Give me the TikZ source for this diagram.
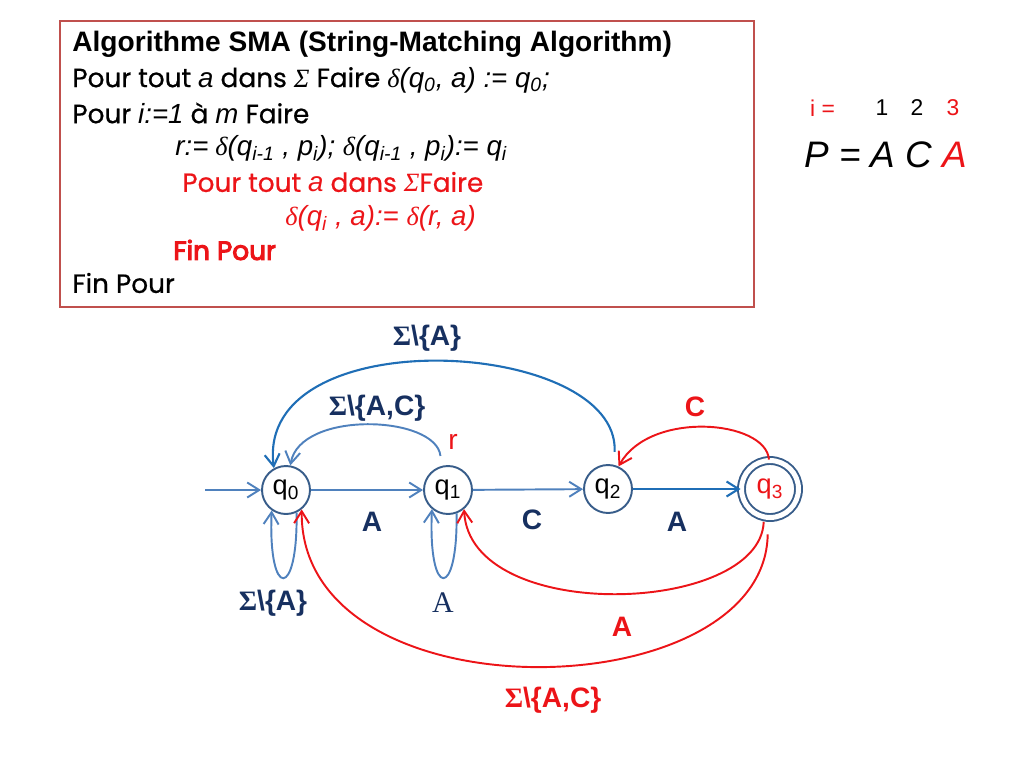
\documentclass[tikz,border=0pt]{standalone}
\usepackage{fontspec}
\setmainfont{Liberation Sans}
\newfontfamily\gothic{Poppins}[FakeBold=0.6]
\newfontfamily\gothicbf{Poppins}[FakeBold=4]
\newfontfamily\slant{Liberation Sans}[Scale=1.05]
\newfontfamily\grk{Liberation Serif}
\usetikzlibrary{arrows.meta}
\definecolor{stroke}{RGB}{56,93,138}
\definecolor{steel}{RGB}{79,129,189}
\definecolor{deepblue}{RGB}{31,110,182}
\definecolor{navy}{RGB}{23,48,96}
\definecolor{hot}{RGB}{236,20,24}
\definecolor{frame}{RGB}{192,80,77}
\newcommand{\sig}{{\grk Σ}}
\newcommand{\sgi}{{\grk\itshape Σ}}
\newcommand{\dlt}{{\grk\itshape δ}}
\newcommand{\ital}[1]{{\slant\itshape #1}}
\begin{document}
\begin{tikzpicture}[x=0.02cm,y=-0.02cm,
	st/.style={circle,draw=stroke,line width=1.1pt,minimum size=0.96cm,inner sep=0pt,font=\fontsize{15.5}{15.5}\selectfont},
	stfinal/.style={st,double,double distance=0.1cm,minimum size=1.14cm,text=hot},
	tip/.style={-{Straight Barb[length=2.4mm,width=3mm]}},
	lnsteel/.style={tip,draw=steel,line width=1.1pt},
	lndeep/.style={tip,draw=deepblue,line width=1.2pt},
	lnred/.style={tip,draw=hot,line width=1.1pt},
	lblnavy/.style={text=navy,font=\fontsize{16}{16}\selectfont\bfseries},
	lblred/.style={text=hot,font=\fontsize{16}{16}\selectfont\bfseries},
	algo/.style={anchor=west,inner sep=0pt,font=\gothic\fontsize{15}{15}\selectfont}]
	\useasboundingbox (0,0) rectangle (1024,768);
	% algorithm box
	\draw[draw=frame,line width=0.8pt] (60,21) rectangle (754,307);
	\node[algo,font=\rmfamily\bfseries\fontsize{16}{16}\selectfont] (ln1) at (72,44) {Algorithme SMA (String-Matching Algorithm)};
	\node[algo] (ln2) at (72,80) {Pour tout \ital{a} dans \sgi{} Faire \dlt\ital{(q\textsubscript{0}, a) := q\textsubscript{0};}};
	\node[algo] (ln3) at (72,113) {Pour \ital{i:=1} à \ital{m} Faire};
	\node[algo] (ln4) at (175,148) {\ital{r:=} \dlt\ital{(q\textsubscript{i-1} , p\textsubscript{i}); }\dlt\ital{(q\textsubscript{i-1} , p\textsubscript{i}):= q\textsubscript{i}}};
	\node[algo,text=hot] (ln5) at (182,182) {Pour tout \ital{a} dans \sgi{}Faire};
	\node[algo,text=hot] (ln6) at (285,218) {\dlt\ital{(q\textsubscript{i} , a):= }\dlt\ital{(r, a)}};
	\node[algo,text=hot] (ln7) at (173,250) {\gothicbf Fin Pour};
	\node[algo] (ln8) at (72,283) {Fin Pour};
	% pattern
	\node[anchor=west,text=hot,font=\fontsize{13}{13}\selectfont] (ieq) at (804,108) {i =};
	\node[font=\fontsize{13}{13}\selectfont] (i1) at (882,108) {1};
	\node[font=\fontsize{13}{13}\selectfont] (i2) at (917,108) {2};
	\node[text=hot,font=\fontsize{13}{13}\selectfont] (i3) at (953,108) {3};
	\node[anchor=west,font=\fontsize{21}{21}\selectfont\itshape] (pat) at (798,155) {P = A C \textcolor{hot}{A}};
	% automaton
	\node[st] (q0) at (286,490) {q\textsubscript{0}};
	\node[st] (q1) at (448,490) {q\textsubscript{1}};
	\node[st] (q2) at (608,489) {q\textsubscript{2}};
	\node[stfinal] (q3) at (770,489) {q\textsubscript{3}};
	\coordinate (entry) at (205,490);
	\draw[lnsteel] (entry) -- (q0);
	\draw[lnsteel] (q0) -- (q1);
	\draw[lnsteel] (q1) -- (q2);
	\draw[lndeep] (q2) -- (q3);
	\draw[lnsteel] (q0.-65) .. controls (298,600) and (268,600) .. (q0.-125);
	\draw[lnsteel] (q1.-70) .. controls (458,600) and (428,600) .. (q1.-130);
	\draw[lnsteel,shorten <=0.2cm] (q1.105) .. controls (436,415) and (300,410) .. (q0.80);
	\draw[lndeep,shorten <=0.26cm] (q2.76) .. controls (620,338) and (255,318) .. (q0.119);
	\draw[lnred] (q3.92) .. controls (766,420) and (650,410) .. (q2.65);
	\draw[lnred,shorten <=0.08cm] (q3.-102) .. controls (760,615) and (470,625) .. (q1.-50);
	\draw[lnred,shorten <=0.32cm] (q3.-94) .. controls (765,710) and (300,720) .. (q0.-51);
	% labels
	\node[lblnavy] (lA01) at (372,522) {A};
	\node[lblnavy] (lC12) at (532,520) {C};
	\node[lblnavy] (lA23) at (677,522) {A};
	\node[lblnavy] (lS20) at (427,338) {\sig\textbackslash\{A\}};
	\node[lblnavy] (lS10) at (377,408) {\sig\textbackslash\{A,C\}};
	\node[text=hot,font=\fontsize{16}{16}\selectfont] (lr) at (453,442) {r};
	\node[lblred] (lC32) at (695,407) {C};
	\node[lblnavy] (lS00) at (273,603) {\sig\textbackslash\{A\}};
	\node[text=navy,font=\grk\fontsize{17}{17}\selectfont] (lA11) at (443,603) {A};
	\node[lblred] (lA31) at (622,627) {A};
	\node[lblred] (lS30) at (553,700) {\sig\textbackslash\{A,C\}};
\end{tikzpicture}
\end{document}
